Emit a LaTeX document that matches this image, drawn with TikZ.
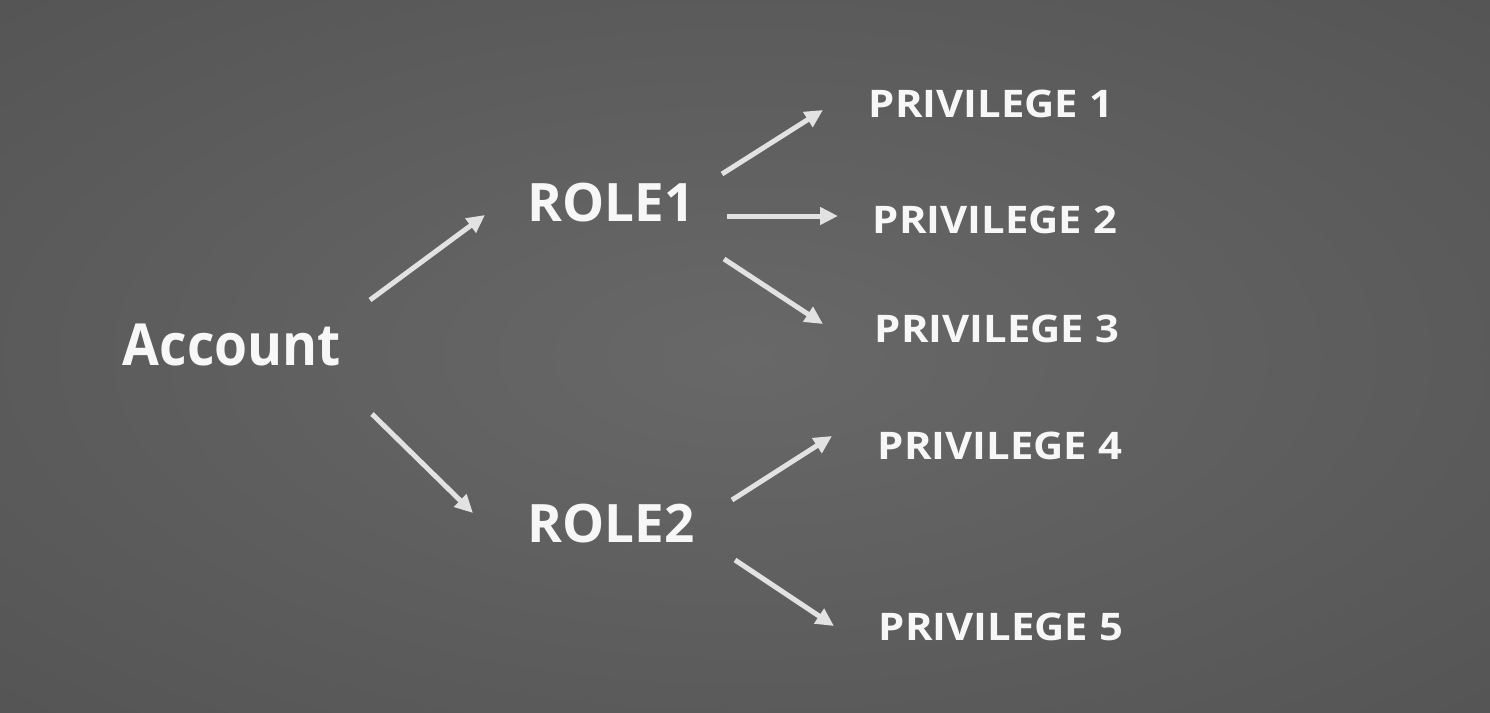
\documentclass[tikz,border=0pt]{standalone}
\usepackage{fontspec}
\setmainfont{Open Sans}
\usetikzlibrary{arrows.meta,calc}
\definecolor{bgin}{HTML}{686868}
\definecolor{bgmid}{HTML}{555555}
\definecolor{bgout}{HTML}{3E3E3E}
\definecolor{chalk}{HTML}{F7F7F7}
\definecolor{arrowc}{HTML}{E2E2E2}
\pgfdeclareradialshading{bgshade}{\pgfpoint{0bp}{0bp}}{color(0bp)=(bgin); color(35bp)=(bgmid); color(71bp)=(bgout)}
\tikzset{
  big/.style={text=chalk, font=\bfseries\fontsize{58}{58}\selectfont, inner sep=0pt, xscale=0.92},
  role/.style={text=chalk, font=\bfseries\fontsize{53}{53}\selectfont, inner sep=0pt},
  priv/.style={text=chalk, font=\bfseries\fontsize{38}{38}\selectfont, inner sep=0pt, xscale=1.1},
  arr/.style={draw=arrowc, line width=5pt, -{Triangle[length=18pt,width=17pt]}}
}
\begin{document}
\begin{tikzpicture}[x=1pt,y=-1pt]
\useasboundingbox (0,0) rectangle (1490,712);
\shade[shading=bgshade] (0,0) rectangle (1490,712);
\node[big] (account) at (232,345) {Account};
\node[role] (role1) at (611,203) {ROLE1};
\node[role] (role2) at (611,524) {ROLE2};
\node[priv] (p1) at (991,104) {PRIVILEGE 1};
\node[priv] (p2) at (995,220) {PRIVILEGE 2};
\node[priv] (p3) at (997,329) {PRIVILEGE 3};
\node[priv] (p4) at (1000,446) {PRIVILEGE 4};
\node[priv] (p5) at (1001,627) {PRIVILEGE 5};
\draw[arr] ($(account)+(138,-45)$) -- ($(role1)+(-126,12)$);
\draw[arr] ($(account)+(140,69)$) -- ($(role2)+(-138,-11)$);
\draw[arr] ($(role1)+(111,-29)$) -- ($(p1)+(-168,6)$);
\draw[arr] ($(role1)+(116,13)$) -- ($(p2)+(-157,-4)$);
\draw[arr] ($(role1)+(113,56)$) -- ($(p3)+(-174,-5)$);
\draw[arr] ($(role2)+(121,-24)$) -- ($(p4)+(-168,-10)$);
\draw[arr] ($(role2)+(124,36)$) -- ($(p5)+(-167,-1)$);
\end{tikzpicture}
\end{document}
